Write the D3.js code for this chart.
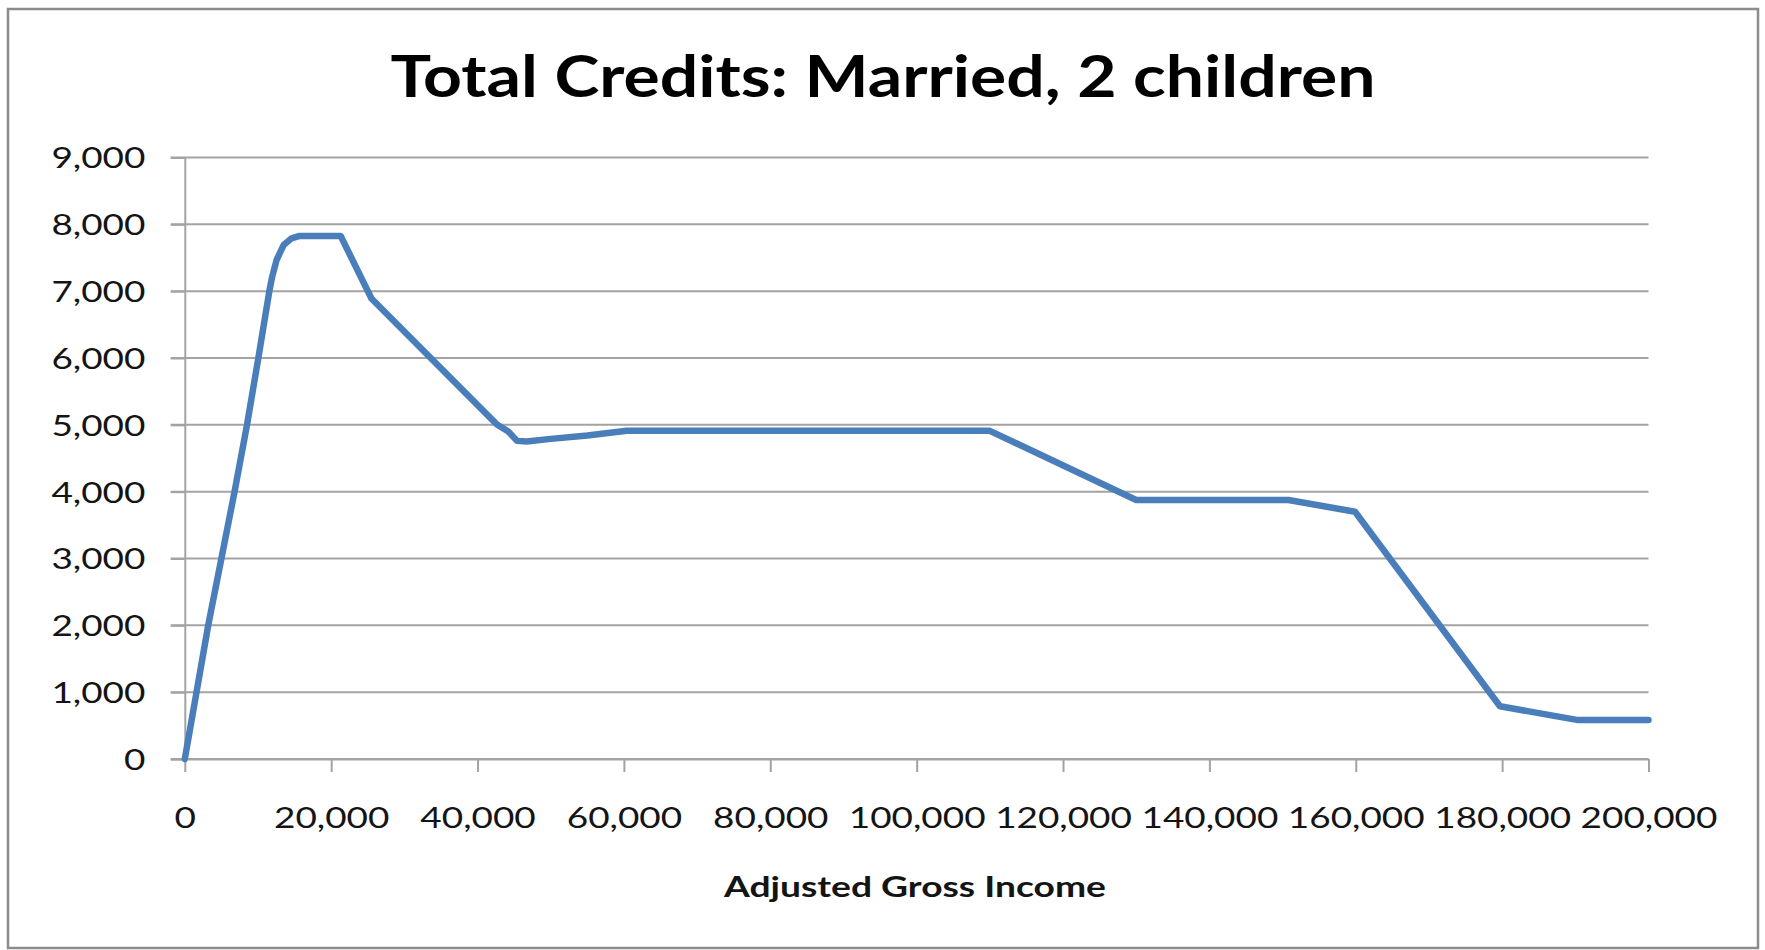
<!DOCTYPE html>
<html><head><meta charset="utf-8">
<script src="https://cdn.jsdelivr.net/npm/d3@7"></script>
<style>body{margin:0;background:#fff;} svg{display:block}</style>
</head><body>
<svg id="c" width="1765" height="950"></svg>
<script>
// ---- data ----
const incomes = [0, 3200, 5000, 6800, 8500, 10050, 11550, 11950, 12550, 13500, 14600, 15700, 21300, 25500, 42600, 44200, 45400, 46700, 50000, 55000, 60400, 110000, 130000, 150800, 159900, 179700, 190200, 200000];
const credits = [0, 2000, 3000, 4000, 5000, 6000, 7000, 7220, 7470, 7690, 7790, 7826, 7826, 6890, 5010, 4900, 4760, 4750, 4790, 4840, 4910, 4910, 3875, 3875, 3700, 790, 585, 585];
const yTickValues = [0, 1000, 2000, 3000, 4000, 5000, 6000, 7000, 8000, 9000];
const xTickValues = [0, 20000, 40000, 60000, 80000, 100000, 120000, 140000, 160000, 180000, 200000];
const chartTitle = "Total Credits: Married, 2 children";
const xAxisTitle = "Adjusted Gross Income";

// ---- layout ----
const svg = d3.select("#c");
const X0 = 184.8, X1 = 1648.5, YT = 157.5, YB = 759;
const x = d3.scaleLinear().domain([0, 200000]).range([X0, X1]);
const y = d3.scaleLinear().domain([0, 9000]).range([YB, YT]);
const fmt = d3.format(",");
const gridColor = "#a3a3a3";
const textColor = "#141414";

svg.append("rect").attr("x", 0).attr("y", 0).attr("width", 1765).attr("height", 950).attr("fill", "#fff");
svg.append("rect").attr("x", 8).attr("y", 9).attr("width", 1750).attr("height", 939)
  .attr("fill", "#fff").attr("stroke", "#8c8c8c").attr("stroke-width", 2.5);

// gridlines
svg.append("g").selectAll("line").data(yTickValues).join("line")
  .attr("x1", X0 - 14).attr("x2", X1)
  .attr("y1", d => y(d)).attr("y2", d => y(d))
  .attr("stroke", gridColor).attr("stroke-width", 2);

// y axis
const gy = svg.append("g").attr("transform", `translate(${X0},0)`)
  .call(d3.axisLeft(y).tickValues(yTickValues).tickFormat(fmt).tickSize(14).tickPadding(25.4));
gy.select(".domain").attr("stroke", gridColor).attr("stroke-width", 2);
gy.selectAll(".tick line").attr("stroke", gridColor).attr("stroke-width", 2);
gy.selectAll(".tick text").attr("font-family", "Lato, 'Open Sans', sans-serif").attr("font-size", 29)
  .attr("fill", textColor).attr("dy", "0.36em");

// x axis
const gx = svg.append("g").attr("transform", `translate(0,${YB})`)
  .call(d3.axisBottom(x).tickValues(xTickValues).tickFormat(fmt).tickSize(13).tickSizeOuter(0));
gx.select(".domain").attr("stroke", gridColor).attr("stroke-width", 2);
gx.selectAll(".tick line").attr("stroke", gridColor).attr("stroke-width", 2);
gx.selectAll(".tick text").attr("font-family", "Lato, 'Open Sans', sans-serif").attr("font-size", 29)
  .attr("fill", textColor).attr("y", 69).attr("dy", 0);

// line
const pts = incomes.map((v, i) => [v, credits[i]]);
svg.append("path").datum(pts)
  .attr("fill", "none").attr("stroke", "#4a7ebb").attr("stroke-width", 6.5)
  .attr("stroke-linejoin", "round").attr("stroke-linecap", "round")
  .attr("d", d3.line().x(d => x(d[0])).y(d => y(d[1])));

// titles
const title = svg.append("text").text(chartTitle)
  .attr("x", 883).attr("y", 97).attr("text-anchor", "middle")
  .attr("font-family", "Lato, 'Open Sans', sans-serif").attr("font-weight", "bold")
  .attr("font-size", 58).attr("fill", "#000");
const xt = svg.append("text").text(xAxisTitle)
  .attr("x", 915).attr("y", 897).attr("text-anchor", "middle")
  .attr("font-family", "Lato, 'Open Sans', sans-serif").attr("font-weight", "bold")
  .attr("font-size", 28).attr("fill", textColor);

// horizontal stretch to match the reference's glyph proportions
function stretch(sel, sx) {
  sel.each(function() {
    const w = this.getComputedTextLength();
    d3.select(this).attr("textLength", w * sx).attr("lengthAdjust", "spacingAndGlyphs");
  });
}
let ref9 = null;
gy.selectAll(".tick text").each(function(d) { if (d === 9000) ref9 = this; });
const sxTicks = 94 / ref9.getComputedTextLength();
stretch(gy.selectAll(".tick text"), sxTicks);
stretch(gx.selectAll(".tick text"), sxTicks);
stretch(title, 985 / title.node().getComputedTextLength());
stretch(xt, 382 / xt.node().getComputedTextLength());
</script>
</body></html>
